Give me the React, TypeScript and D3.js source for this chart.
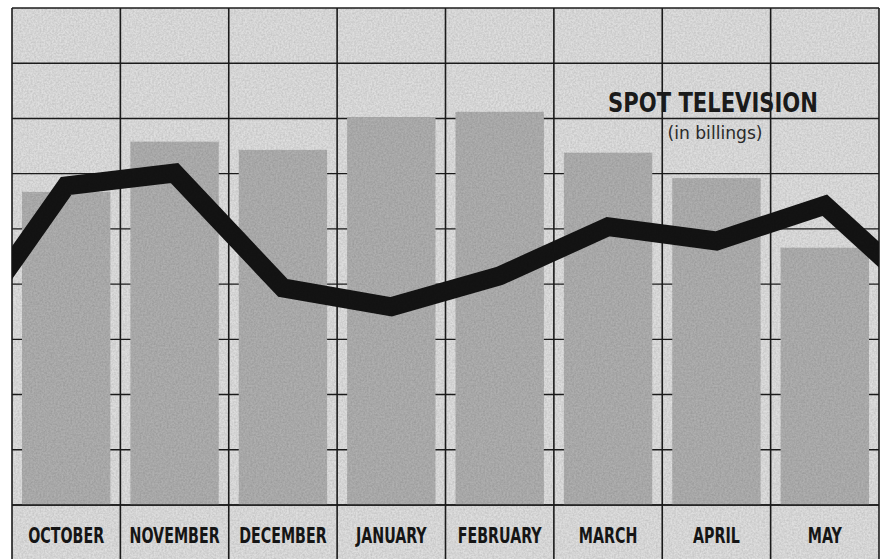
import React from 'react'
import * as d3 from 'd3'

// Months across the bottom band
const months = ['OCTOBER', 'NOVEMBER', 'DECEMBER', 'JANUARY', 'FEBRUARY', 'MARCH', 'APRIL', 'MAY']

// Grey bars (grid units)
const barValues = [5.67, 6.58, 6.43, 7.01, 7.12, 6.38, 5.92, 4.66]

// Black line, one point per month
const lineValues = [5.78, 6.01, 3.93, 3.59, 4.15, 5.04, 4.78, 5.43]
// the line runs in from the month before and out to the month after (clipped)
const lineBefore = 2.99
const lineAfter = 3.64

const gridMax = 9

const title = 'SPOT TELEVISION'
const subtitle = '(in billings)'

const condensed = '"DejaVu Sans Condensed", "DejaVu Sans", sans-serif'

export default function App() {
  const W = 885
  const H = 559
  const left = 12
  const right = 879
  const top = 8
  const plotBottom = 505

  const x = d3.scaleBand<string>().domain(months).range([left, right]).paddingInner(0).paddingOuter(0)
  const colW = x.bandwidth()
  const xi = d3.scaleLinear().domain([0, months.length]).range([left, right])
  const y = d3.scaleLinear().domain([0, gridMax]).range([plotBottom, top])

  const linePts: [number, number][] = [
    [-1, lineBefore],
    ...lineValues.map((v, i) => [i, v] as [number, number]),
    [months.length, lineAfter],
  ]
  const line = d3.line<[number, number]>()
    .x(d => xi(d[0] + 0.5))
    .y(d => y(d[1]))

  const gridColor = '#1c1c1c'

  return (
    <svg width={W} height={H} style={{ position: 'absolute', top: 0, left: 0, background: '#fff' }}>
      <defs>
        <clipPath id="plotClip">
          <rect x={left} y={top} width={right - left} height={plotBottom - top} />
        </clipPath>
        <filter id="grain" x="0" y="0" width="100%" height="100%">
          <feTurbulence type="fractalNoise" baseFrequency="0.55" numOctaves={2} seed={4} result="n" />
          <feColorMatrix in="n" type="matrix"
            values="0 0 0 0 0  0 0 0 0 0  0 0 0 0 0  0 0 0 -1.4 1.0" />
        </filter>
      </defs>

      {/* background */}
      <rect x={left} y={top} width={right - left} height={H - top} fill="#dedede" />

      {/* horizontal grid lines (hidden behind bars) */}
      {y.ticks(gridMax).map(t => (
        <line key={'h' + t} x1={left} x2={right} y1={y(t)} y2={y(t)} stroke={gridColor} strokeWidth={1.4} />
      ))}

      {/* vertical grid lines */}
      {d3.range(months.length + 1).map(i => (
        <line key={'v' + i} x1={xi(i)} x2={xi(i)} y1={top} y2={H} stroke={gridColor} strokeWidth={1.6} />
      ))}

      {/* bars */}
      {months.map((m, i) => (
        <rect
          key={m}
          x={(x(m) ?? 0) + 10}
          y={y(barValues[i])}
          width={colW - 20}
          height={plotBottom - y(barValues[i])}
          fill="#afafaf"
        />
      ))}

      {/* bottom line of plot */}
      <line x1={left} x2={right} y1={plotBottom} y2={plotBottom} stroke={gridColor} strokeWidth={1.6} />

      {/* billings line */}
      <g clipPath="url(#plotClip)">
        <path d={line(linePts) ?? ''} fill="none" stroke="#141414" strokeWidth={19} strokeLinejoin="miter" />
      </g>

      {/* grain overlay */}
      <rect x={left} y={top} width={right - left} height={H - top} filter="url(#grain)" opacity={0.14} />

      {/* title */}
      <text x={713} y={112} textAnchor="middle" fill="#1a1a1a"
        style={{ fontFamily: condensed, fontSize: 27, fontWeight: 'bold' }}
        textLength={210} lengthAdjust="spacingAndGlyphs">
        {title}
      </text>
      <text x={715} y={139} textAnchor="middle" fill="#2a2a2a"
        style={{ fontFamily: condensed, fontSize: 17 }}
        textLength={95} lengthAdjust="spacingAndGlyphs">
        {subtitle}
      </text>

      {/* month labels */}
      {months.map(m => (
        <text key={'l' + m} transform={`translate(${(x(m) ?? 0) + colW / 2},543) scale(0.72,1)`}
          textAnchor="middle" fill="#151515"
          style={{ fontFamily: condensed, fontSize: 22, fontWeight: 'bold' }}>
          {m}
        </text>
      ))}
    </svg>
  )
}
